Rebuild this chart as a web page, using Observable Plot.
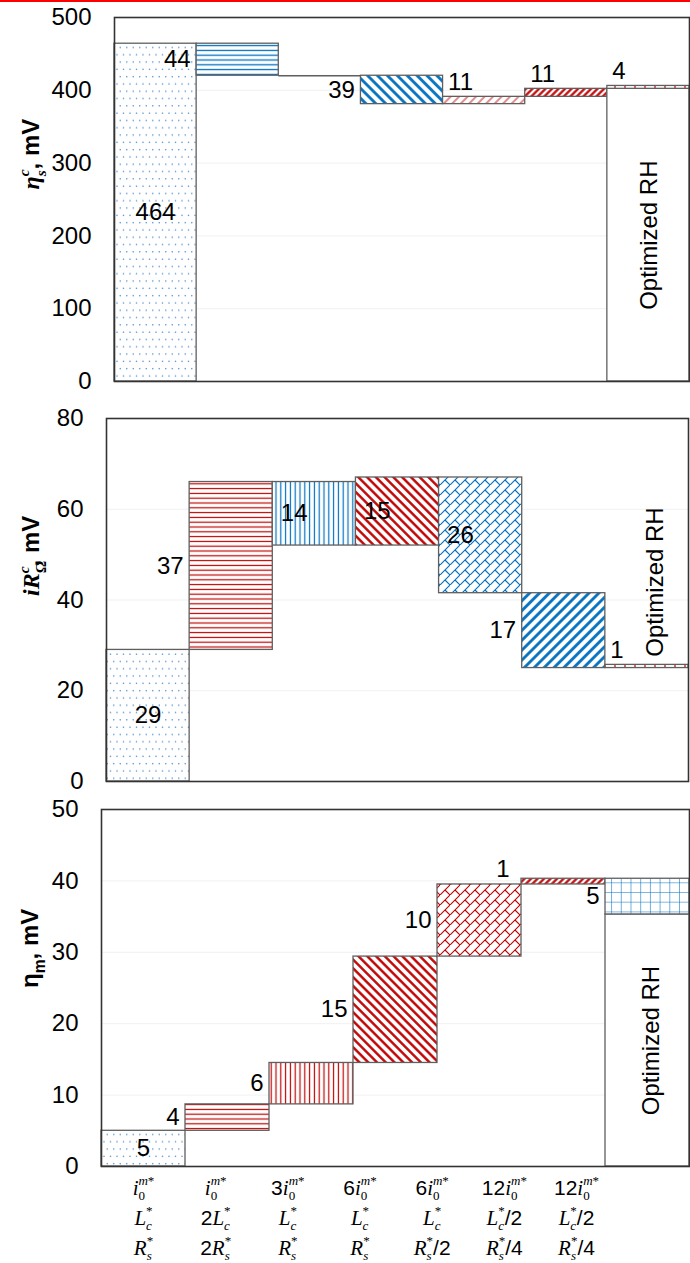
<!DOCTYPE html>
<html><head><meta charset="utf-8">
<script src="https://cdn.jsdelivr.net/npm/d3@7"></script>
<script src="https://cdn.jsdelivr.net/npm/@observablehq/plot@0.6"></script>
<style>
body{margin:0;background:#fff;}
#wrap{position:relative;width:690px;}
#topline{position:absolute;left:0;top:0;width:690px;height:2px;background:#ff0000;z-index:2}
#chart svg{display:block}
</style></head>
<body>
<svg width="0" height="0" style="position:absolute;left:0;top:0">
<defs>
  <pattern id="dots" patternUnits="userSpaceOnUse" width="13" height="14.6">
    <rect width="13" height="14.6" fill="#fff"/>
    <g fill="#4f8fd0"><circle cx="3.25" cy="3.65" r="0.8"/><circle cx="9.75" cy="3.65" r="0.8"/><circle cx="0" cy="10.95" r="0.8"/><circle cx="6.5" cy="10.95" r="0.8"/><circle cx="13" cy="10.95" r="0.8"/></g>
  </pattern>
  <pattern id="hBlue" patternUnits="userSpaceOnUse" width="8" height="4.8"><rect width="8" height="4.8" fill="#fff"/><line x1="0" x2="8" y1="2.4" y2="2.4" stroke="#0070c0" stroke-width="1.3"/></pattern>
  <pattern id="vBlue" patternUnits="userSpaceOnUse" width="4.8" height="8"><rect width="4.8" height="8" fill="#fff"/><line y1="0" y2="8" x1="2.4" x2="2.4" stroke="#0070c0" stroke-width="1.2"/></pattern>
  <pattern id="hRed" patternUnits="userSpaceOnUse" width="8" height="4.8"><rect width="8" height="4.8" fill="#fff"/><line x1="0" x2="8" y1="2.4" y2="2.4" stroke="#c00000" stroke-width="1.2"/></pattern>
  <pattern id="vRed" patternUnits="userSpaceOnUse" width="4.8" height="8"><rect width="4.8" height="8" fill="#fff"/><line y1="0" y2="8" x1="2.4" x2="2.4" stroke="#c00000" stroke-width="1.2"/></pattern>
  <pattern id="vRedSparse" patternUnits="userSpaceOnUse" width="10" height="8"><rect width="10" height="8" fill="#fff"/><line y1="0" y2="8" x1="5" x2="5" stroke="#c00000" stroke-width="1.2"/></pattern>
  <pattern id="bsBlue" patternUnits="userSpaceOnUse" width="7" height="10" patternTransform="rotate(-45)"><rect width="7" height="10" fill="#fff"/><line y1="0" y2="10" x1="3.5" x2="3.5" stroke="#0070c0" stroke-width="2.8"/></pattern>
  <pattern id="fsBlue" patternUnits="userSpaceOnUse" width="7" height="10" patternTransform="rotate(45)"><rect width="7" height="10" fill="#fff"/><line y1="0" y2="10" x1="3.5" x2="3.5" stroke="#0070c0" stroke-width="2.8"/></pattern>
  <pattern id="bsRed" patternUnits="userSpaceOnUse" width="6.2" height="10" patternTransform="rotate(-45)"><rect width="6.2" height="10" fill="#fff"/><line y1="0" y2="10" x1="3.1" x2="3.1" stroke="#c00000" stroke-width="2.4"/></pattern>
  <pattern id="fsRed" patternUnits="userSpaceOnUse" width="4.6" height="10" patternTransform="rotate(45)"><rect width="4.6" height="10" fill="#fff"/><line y1="0" y2="10" x1="2.3" x2="2.3" stroke="#c00000" stroke-width="2.2"/></pattern>
  <pattern id="fsRedThin" patternUnits="userSpaceOnUse" width="6" height="10" patternTransform="rotate(45)"><rect width="6" height="10" fill="#fff"/><line y1="0" y2="10" x1="3" x2="3" stroke="#d03030" stroke-width="1.1"/></pattern>
  <pattern id="brickBlue" patternUnits="userSpaceOnUse" width="10" height="10"><rect width="10" height="10" fill="#fff"/><path d="M-1,11L11,-1M5,5L10,10" stroke="#0070c0" stroke-width="1.1" fill="none"/></pattern>
  <pattern id="brickRed" patternUnits="userSpaceOnUse" width="10" height="10"><rect width="10" height="10" fill="#fff"/><path d="M-1,11L11,-1M5,5L10,10" stroke="#c00000" stroke-width="1.1" fill="none"/></pattern>
  <pattern id="gridBlue" patternUnits="userSpaceOnUse" width="9.7" height="9.7"><rect width="9.7" height="9.7" fill="#fff"/><path d="M0,0H9.7M0,0V9.7" stroke="#0070c0" stroke-width="1.1" fill="none"/></pattern>
</defs>
</svg>
<div id="wrap"><div id="topline"></div><div id="chart"></div></div>
<script>
// ---------------- DATA ----------------
const categoryIndex = [0, 1, 2, 3, 4, 5, 6];
const tickLine1 = ["i_0^{m*}", "i_0^{m*}", "3i_0^{m*}", "6i_0^{m*}", "6i_0^{m*}", "12i_0^{m*}", "12i_0^{m*}"];
const tickLine2 = ["L_c^*", "2L_c^*", "L_c^*", "L_c^*", "L_c^*", "L_c^*/2", "L_c^*/2"];
const tickLine3 = ["R_s^*", "2R_s^*", "R_s^*", "R_s^*", "R_s^*/2", "R_s^*/4", "R_s^*/4"];
const rhLabel = "Optimized RH";

// Panel 1: eta_s^c (mV)
const etaSTicks = [0, 100, 200, 300, 400, 500];
const etaSCat  = [0, 1, 2, 3, 4, 5, 6, 6];
const etaSLow  = [0, 420, 420, 381, 381, 391, 0, 402];
const etaSHigh = [464, 464, 420, 420, 391, 402, 402, 406];
const etaSText = ["464", "44", "", "39", "11", "11", "", "4"];

// Panel 2: iR_Omega^c (mV)
const iRTicks = [0, 20, 40, 60, 80];
const iRCat  = [0, 1, 2, 3, 4, 5, 6];
const iRLow  = [0, 29, 52, 52, 41.5, 25, 25];
const iRHigh = [29, 66, 66, 67, 67, 41.5, 25.7];
const iRText = ["29", "37", "14", "15", "26", "17", "1"];

// Panel 3: eta_m (mV)
const etaMTicks = [0, 10, 20, 30, 40, 50];
const etaMCat  = [0, 1, 2, 3, 4, 5, 6, 6];
const etaMLow  = [0, 5, 8.7, 14.5, 29.4, 39.5, 0, 35.3];
const etaMHigh = [5, 8.7, 14.5, 29.4, 39.5, 40.3, 35.3, 40.3];
const etaMText = ["5", "4", "6", "15", "10", "1", "", "5"];

// ---------------- STYLE ----------------
const SERIF = "'Liberation Serif','DejaVu Serif',serif";
const SANS = "'Liberation Sans',Arial,sans-serif";
const BAR_STROKE = "#5f5f5f";

const style1 = {pattern: ["dots","hBlue","none","bsBlue","fsRedThin","fsRed","white","vRedSparse"],
  place: ["c","l","","l","up","up","","up"],
  height: 395, mt: 17, mb: 14, ml: 114, mr: 1, titleDx: -83, titleDy: -10, rhDx: 1, rhDy: 0,
  title: [{t:"η",pos:"base",italic:true,font:SERIF},{t:"s",pos:"sub",italic:true,font:SERIF},{t:"c",pos:"sup",italic:true,font:SERIF,stack:true},{t:", mV",pos:"base",font:SANS}]};
const style2 = {pattern: ["dots","hRed","vBlue","bsRed","brickBlue","fsBlue","vRedSparse"],
  place: ["c","l","in","in","in","l","up"],
  height: 400, mt: 23, mb: 14, ml: 106, mr: 2, titleDx: -75, titleDy: -4, rhDx: 8, rhDy: -18,
  title: [{t:"iR",pos:"base",italic:true,font:SERIF},{t:"Ω",pos:"sub",italic:false,font:SERIF},{t:"c",pos:"sup",italic:true,font:SERIF,stack:true},{t:", mV",pos:"base",font:SANS}]};
const style3 = {pattern: ["dots","hRed","vRed","bsRed","brickRed","fsRed","white","gridBlue"],
  place: ["c","l","l","l","l","upl","","l"],
  height: 383, mt: 14, mb: 12, ml: 101, mr: 1, titleDx: -71, titleDy: 0, rhDx: 4, rhDy: 0,
  title: [{t:"η",pos:"base",italic:false,font:SANS},{t:"m",pos:"sub",italic:false,font:SANS},{t:", mV",pos:"base",font:SANS}]};

const placements = {
  c:   {x: b => b.i + 0.5, y: b => (b.lo + b.hi) / 2, textAnchor: "middle", dx: 0, dy: 0},
  l:   {x: "i", y: b => (b.lo + b.hi) / 2, textAnchor: "end", dx: -6, dy: 0},
  in:  {x: "i", y: b => (b.lo + b.hi) / 2, textAnchor: "start", dx: 8, dy: 0},
  up:  {x: "i", y: "hi", textAnchor: "start", dx: 5, dy: -15},
  upl: {x: "i", y: "hi", textAnchor: "end", dx: -12, dy: -9}
};

function fillFor(p) { return p === "white" ? "#ffffff" : p === "none" ? "none" : `url(#${p})`; }

// --------- rich text helpers ---------
const svgNS = "http://www.w3.org/2000/svg";
function mathSegs(str) {
  const out = []; const isL = c => /[A-Za-z]/.test(c);
  let k = 0, prevPos = "base";
  while (k < str.length) {
    const ch = str[k];
    if (ch === "_" || ch === "^") {
      const pos = ch === "_" ? "sub" : "sup"; k++;
      let g;
      if (str[k] === "{") { const e = str.indexOf("}", k); g = str.slice(k + 1, e); k = e + 1; }
      else { g = str[k]; k++; }
      const stack = prevPos !== "base" && prevPos !== pos;
      let first = true;
      for (const c of g) { out.push({t: c, pos, italic: isL(c), font: SERIF, stack: first && stack}); first = false; }
      prevPos = pos;
    } else {
      out.push({t: ch, pos: "base", italic: isL(ch), font: isL(ch) ? SERIF : SANS});
      prevPos = "base"; k++;
    }
  }
  return out;
}
function setRich(el, segs, F, bold, opt) {
  const o = Object.assign({scale: 0.65, sub: 0.3, sup: 0.44}, opt || {});
  el.textContent = "";
  let cur = 0, groupLen = 0, lastGroupLen = 0, curPos = "base";
  for (const s of segs) {
    const ts = document.createElementNS(svgNS, "tspan");
    ts.textContent = s.t;
    ts.setAttribute("font-size", s.pos === "base" ? F : F * o.scale);
    ts.setAttribute("font-family", s.font);
    ts.setAttribute("font-style", s.italic ? "italic" : "normal");
    ts.setAttribute("font-weight", bold ? "bold" : "normal");
    const target = s.pos === "sub" ? F * o.sub : s.pos === "sup" ? -F * o.sup : 0;
    if (target !== cur) ts.setAttribute("dy", target - cur);
    cur = target;
    if (s.pos !== curPos) { lastGroupLen = groupLen; groupLen = 0; curPos = s.pos; }
    if (s.stack) ts.setAttribute("dx", -lastGroupLen);
    el.appendChild(ts);
    groupLen += ts.getComputedTextLength();
  }
}

// --------- panels ---------
function panel(cat, low, high, text, ticks, st) {
  const bars = cat.map((c, k) => ({i: c, lo: low[k], hi: high[k], t: text[k], pat: st.pattern[k], place: st.place[k]}));
  const labelMarks = Object.entries(placements).map(([key, p]) =>
    Plot.text(bars.filter(b => b.place === key && b.t !== ""), {x: p.x, y: p.y, text: "t", textAnchor: p.textAnchor, dx: p.dx, dy: p.dy, fontSize: 24, fill: "#000"}));
  const white = bars.find(b => b.pat === "white");
  const rh = white
    ? Plot.text([rhLabel], {x: () => white.i + 0.5, y: () => (white.lo + white.hi) / 2, text: d => d, rotate: -90, fontSize: 24, dx: st.rhDx, dy: st.rhDy, fill: "#000"})
    : Plot.text([rhLabel], {x: () => categoryIndex[categoryIndex.length - 1] + 0.5, frameAnchor: "middle", text: d => d, rotate: -90, fontSize: 24, dx: st.rhDx, dy: st.rhDy, fill: "#000"});
  const svg = Plot.plot({
    width: 690, height: st.height,
    marginTop: st.mt, marginBottom: st.mb, marginLeft: st.ml, marginRight: st.mr,
    x: {domain: [0, categoryIndex.length], axis: null},
    y: {domain: [ticks[0], ticks[ticks.length - 1]], ticks: ticks, tickSize: 0, tickPadding: 23, label: null},
    color: {type: "identity"},
    style: {fontSize: "24px", fontFamily: SANS, color: "#000", background: "#fff", overflow: "visible"},
    marks: [
      Plot.ruleY(ticks.slice(1, -1), {stroke: "#f1f1f1"}),
      Plot.rect(bars.filter(b => b.hi > b.lo), {x1: "i", x2: b => b.i + 1, y1: "lo", y2: "hi", fill: b => fillFor(b.pat), stroke: BAR_STROKE, strokeWidth: 1.3}),
      Plot.ruleY(bars.filter(b => b.hi === b.lo), {x1: "i", x2: b => b.i + 1, y: "lo", stroke: BAR_STROKE, strokeWidth: 1.3}),
      Plot.frame({stroke: "#333", strokeWidth: 1.6}),
      ...labelMarks,
      rh,
      Plot.text(["__YTITLE__"], {frameAnchor: "left", rotate: -90, dx: st.titleDx, dy: st.titleDy, text: d => d, fontSize: 24, fill: "#000"})
    ]
  });
  return svg;
}

const chart = document.getElementById("chart");
const panels = [
  [panel(etaSCat, etaSLow, etaSHigh, etaSText, etaSTicks, style1), style1],
  [panel(iRCat, iRLow, iRHigh, iRText, iRTicks, style2), style2],
  [panel(etaMCat, etaMLow, etaMHigh, etaMText, etaMTicks, style3), style3]
];
for (const [svg, st] of panels) {
  chart.appendChild(svg);
  svg.querySelectorAll("text").forEach(t => { if (t.textContent === "__YTITLE__") setRich(t, st.title, 24, true, {scale: 0.65, sub: 0.3, sup: 0.44}); });
}

// --------- category label row ---------
const lineMarks = [tickLine1, tickLine2, tickLine3].map((arr, j) =>
  Plot.text(categoryIndex, {x: d => d, text: d => arr[d], frameAnchor: "top", lineAnchor: "bottom", dy: [16, 46, 76][j], fontSize: 21, fill: "#000"}));
const labelRow = Plot.plot({
  width: 690, height: 85, margin: 0,
  x: {domain: [0, 6], range: [143, 576], axis: null},
  style: {fontSize: "21px", fontFamily: SANS, color: "#000", background: "#fff", overflow: "visible"},
  marks: lineMarks
});
chart.appendChild(labelRow);
labelRow.querySelectorAll("text").forEach(t => setRich(t, mathSegs(t.textContent), 21, false, {scale: 0.62, sub: 0.25, sup: 0.45}));
</script>
</body></html>
